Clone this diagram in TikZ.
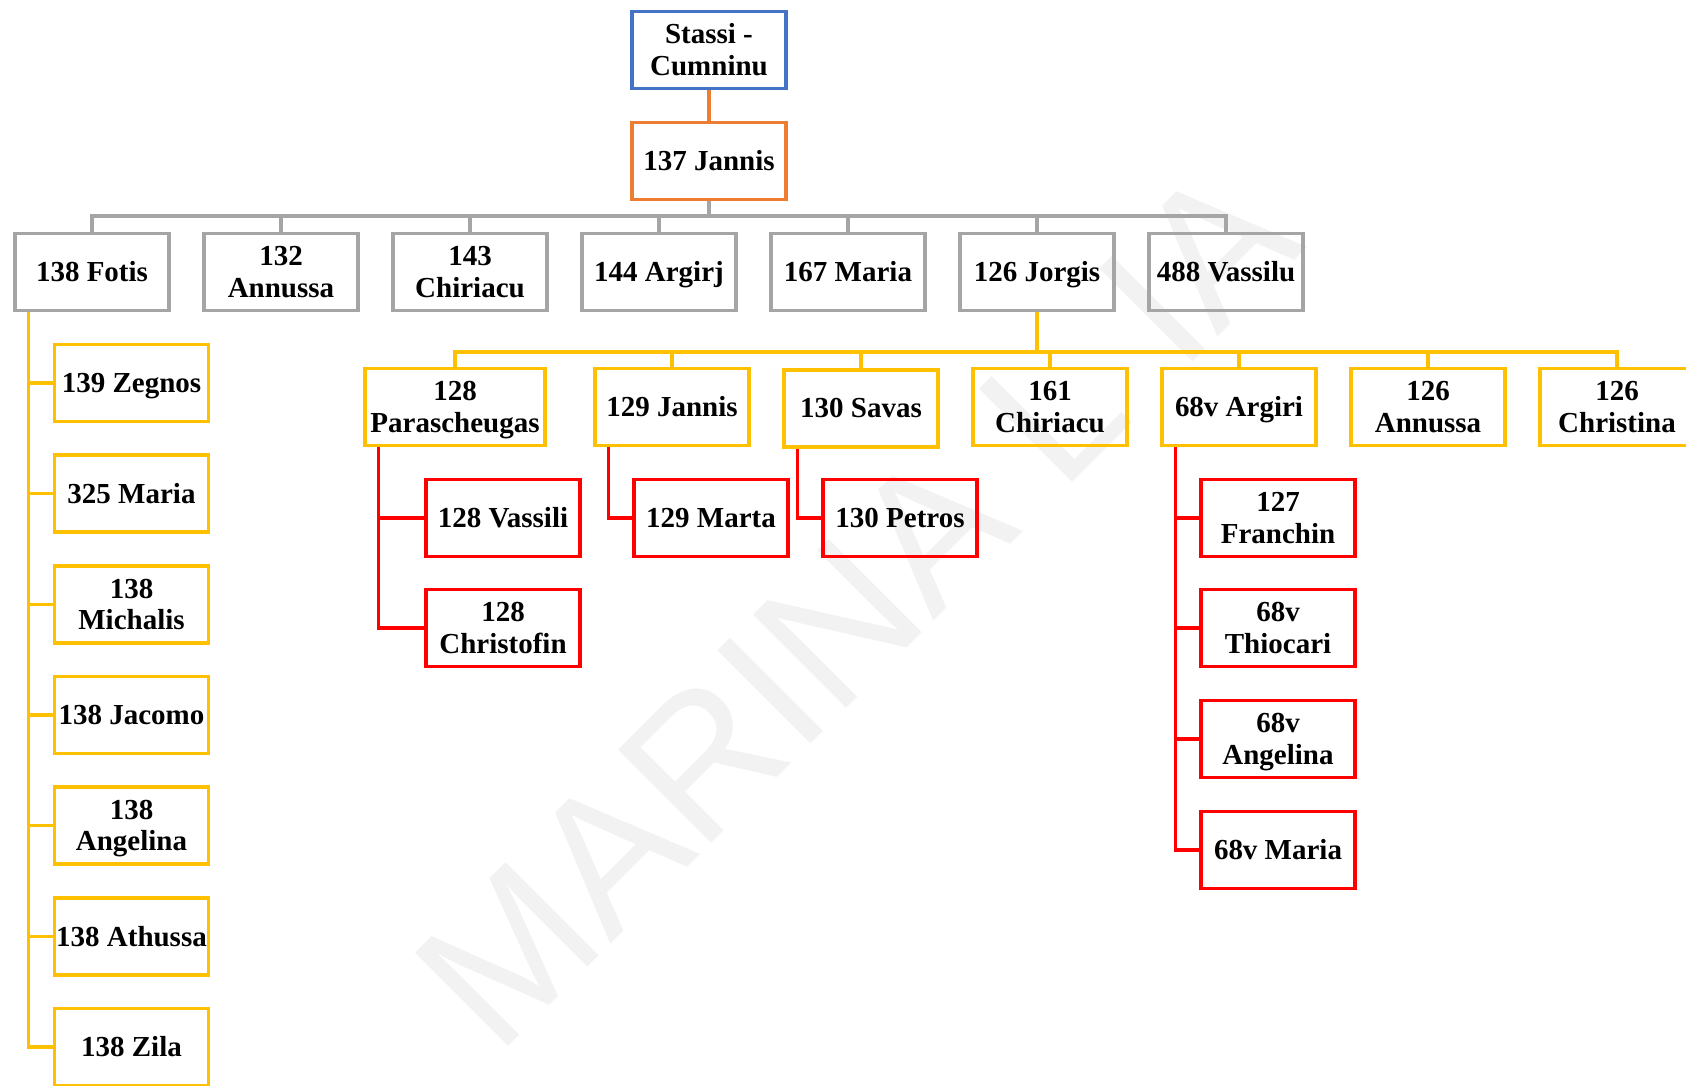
\documentclass[tikz,border=0pt]{standalone}
\usepackage{fontspec}
\setmainfont{Liberation Serif}
\newfontfamily\markfont{Liberation Sans}
\usetikzlibrary{calc}

\definecolor{rootblue}{HTML}{4472C4}
\definecolor{headorange}{HTML}{ED7D31}
\definecolor{kidgray}{HTML}{A5A5A5}
\definecolor{grandyellow}{HTML}{FFC000}
\definecolor{greatred}{HTML}{FF0000}

% keeps one- and two-line names centred on their cap height
\newcommand{\boxstrut}{\rule[-4.1pt]{0pt}{19pt}}
\newcommand{\pairstrut}{\rule[-4.1pt]{0pt}{37pt}}

\begin{document}
\begin{tikzpicture}[
  font=\fontsize{16.5}{18}\selectfont\bfseries,
  person/.style={draw, line width=1.9pt, align=center, minimum width=3.08cm,
    minimum height=1.54cm, inner sep=1pt,
    execute at begin node=\boxstrut, execute at end node=\boxstrut},
  namepair/.style={execute at begin node=\pairstrut},
  rootbox/.style={person, draw=rootblue},
  headbox/.style={person, draw=headorange},
  kidbox/.style={person, draw=kidgray},
  grandbox/.style={person, draw=grandyellow},
  greatbox/.style={person, draw=greatred},
  hlink/.style={draw=headorange, line width=1.9pt},
  glink/.style={draw=kidgray, line width=1.9pt},
  ylink/.style={draw=grandyellow, line width=1.9pt},
  rlink/.style={draw=greatred, line width=1.9pt},
  marklbl/.style={font=\markfont\fontsize{109}{109}\selectfont, text=black!5,
    rotate=45, anchor=base west, inner sep=0pt}
]
\useasboundingbox (0,0) rectangle (33.72,-21.70);
\clip (0,0) rectangle (33.72,-21.70);

% the watermark, behind everything
\node[marklbl] (mark) at (9.94,-21.16) {MARINA L\kern0.32em IA};

% root and head of the family
\node[rootbox, namepair] (stassi) at (14.18,-1.00) {Stassi -\\Cumninu};
\node[headbox] (jannis) at (14.18,-3.22) {137 Jannis};
\draw[hlink] (stassi.south) -- (jannis.north);

% the children, left to right
\node[kidbox] (fotis)    at (1.84,-5.44)  {138 Fotis};
\node[kidbox, namepair] (annussa)  at (5.62,-5.44)  {132\\Annussa};
\node[kidbox, namepair] (chiriacu) at (9.40,-5.44)  {143\\Chiriacu};
\node[kidbox] (argirj)   at (13.18,-5.44) {144 Argirj};
\node[kidbox] (maria)    at (16.96,-5.44) {167 Maria};
\node[kidbox] (jorgis)   at (20.74,-5.44) {126 Jorgis};
\node[kidbox] (vassilu)  at (24.52,-5.44) {488 Vassilu};

\coordinate (gbus) at (0,-4.32);
\foreach \c in {fotis, annussa, chiriacu, argirj, maria, jorgis, vassilu}
  \draw[glink] (\c.north) -- (\c.north |- gbus) -- (jannis.south |- gbus) -- (jannis.south);

% children of 138 Fotis, one column
\node[grandbox] (zegnos)   at (2.63,-7.66)  {139 Zegnos};
\node[grandbox] (fmaria)   at (2.63,-9.87)  {325 Maria};
\node[grandbox, namepair] (michalis) at (2.63,-12.09) {138\\Michalis};
\node[grandbox] (jacomo)   at (2.63,-14.30) {138 Jacomo};
\node[grandbox, namepair] (fangel)   at (2.63,-16.51) {138\\Angelina};
\node[grandbox] (athussa)  at (2.63,-18.73) {138 Athussa};
\node[grandbox] (zila)     at (2.63,-20.94) {138 Zila};

\foreach \c in {zegnos, fmaria, michalis, jacomo, fangel, athussa, zila}
  \draw[ylink] ($(fotis.south west)+(0.3,0)$) |- (\c.west);

% children of 126 Jorgis, one row
\node[grandbox, namepair, minimum width=3.6cm] (parasch) at (9.10,-8.14) {128\\Parascheugas};
\node[grandbox] (jjannis)  at (13.44,-8.14) {129 Jannis};
\node[grandbox] (savas)    at (17.22,-8.17) {130 Savas};
\node[grandbox, namepair] (jchiria)  at (21.00,-8.14) {161\\Chiriacu};
\node[grandbox] (argiri)   at (24.78,-8.14) {68v Argiri};
\node[grandbox, namepair] (jannussa) at (28.56,-8.14) {126\\Annussa};
\node[grandbox, namepair] (christina) at (32.34,-8.14) {126\\Christina};

\coordinate (ybus) at (0,-7.04);
\foreach \c in {parasch, jjannis, savas, jchiria, argiri, jannussa, christina}
  \draw[ylink] (\c.north) -- (\c.north |- ybus) -- (jorgis.south |- ybus) -- (jorgis.south);

% grandchildren
\node[greatbox] (vassili)    at (10.06,-10.36) {128 Vassili};
\node[greatbox, namepair] (christofin) at (10.06,-12.56) {128\\Christofin};
\node[greatbox] (marta)      at (14.22,-10.36) {129 Marta};
\node[greatbox] (petros)     at (18.00,-10.36) {130 Petros};
\node[greatbox, namepair] (franchin)   at (25.56,-10.36) {127\\Franchin};
\node[greatbox, namepair] (thiocari)   at (25.56,-12.56) {68v\\Thiocari};
\node[greatbox, namepair] (aangel)     at (25.56,-14.78) {68v\\Angelina};
\node[greatbox] (amaria)     at (25.56,-17.00) {68v Maria};

\foreach \c in {vassili, christofin}
  \draw[rlink] ($(parasch.south west)+(0.3,0)$) |- (\c.west);
\draw[rlink] ($(jjannis.south west)+(0.3,0)$) |- (marta.west);
\draw[rlink] ($(savas.south west)+(0.3,0)$) |- (petros.west);
\foreach \c in {franchin, thiocari, aangel, amaria}
  \draw[rlink] ($(argiri.south west)+(0.3,0)$) |- (\c.west);

\end{tikzpicture}
\end{document}
